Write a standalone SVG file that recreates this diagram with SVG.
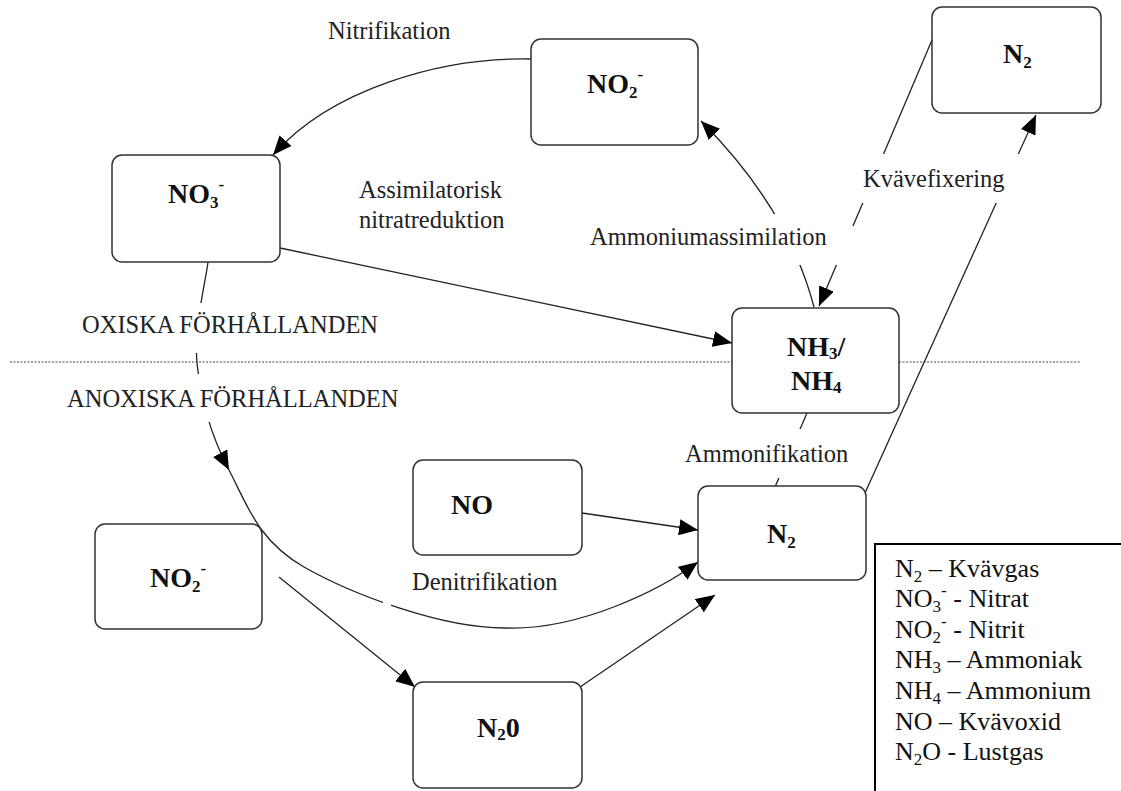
<svg xmlns="http://www.w3.org/2000/svg" width="1121" height="791" viewBox="0 0 1121 791">
<style>
.box{fill:#fff;stroke:#333;stroke-width:1.5}
.nl{font-family:"Liberation Serif","Times New Roman",serif;font-weight:bold;font-size:28px;fill:#111}
.lb{font-family:"Liberation Serif","Times New Roman",serif;font-size:24.5px;fill:#222}
.lg{font-family:"Liberation Serif","Times New Roman",serif;font-size:26px;fill:#111}
.sm{font-size:17px}
.ln{fill:none;stroke:#222;stroke-width:1.3}
.arr{marker-end:url(#ah)}
</style>
<defs>
<marker id="ah" markerUnits="userSpaceOnUse" markerWidth="20" markerHeight="16" refX="19" refY="8" orient="auto">
<path d="M0,0 L19,8 L0,16 Z" fill="#000"/>
</marker>
<mask id="gaps" maskUnits="userSpaceOnUse" x="0" y="0" width="1121" height="791">
<rect x="0" y="0" width="1121" height="791" fill="#fff"/>
<rect x="180" y="303" width="40" height="50" fill="#000"/>
<rect x="180" y="374" width="44" height="48" fill="#000"/>
<rect x="383" y="595" width="8" height="25" fill="#000"/>
<rect x="845" y="154" width="185" height="49" fill="#000"/>
<rect x="765" y="214" width="50" height="51" fill="#000"/>
<rect x="828" y="226" width="32" height="39" fill="#000"/>
<rect x="770" y="429" width="45" height="49" fill="#000"/>
</mask>
</defs>
<rect x="0" y="0" width="1121" height="791" fill="#fff"/>

<line x1="10" y1="362" x2="1081" y2="362" stroke="#444" stroke-width="1" stroke-dasharray="2 1.5"/>

<g id="connectors" mask="url(#gaps)">
<path class="ln arr" d="M531,59 C440,57 330,90 273,155"/>
<path class="ln arr" d="M280,248 L732,343"/>
<path class="ln arr" d="M814,307 Q788,208 701,121"/>
<path class="ln arr" d="M932,40 L819,306"/>
<path class="ln arr" d="M865,493 L1036,115"/>
<path class="ln" d="M807,413 L775,487"/>
<path class="ln arr" d="M208,262 C206.2,278.8 193.5,328.3 197,363 C200.5,397.7 211.2,436 229,470"/>
<path class="ln arr" d="M229,470 C246.8,504 257.7,540.7 304,567 C350.3,593.3 441.3,628.8 507,628 C580,630 660,590 698,562"/>
<path class="ln arr" d="M582,513 L698,530"/>
<path class="ln arr" d="M279,577 L415,687"/>
<path class="ln arr" d="M580,687 L715,595"/>
</g>

<g id="labels">
<text class="lb" x="328" y="39">Nitrifikation</text>
<text class="lb" x="359" y="198">Assimilatorisk</text>
<text class="lb" x="359" y="228">nitratreduktion</text>
<text class="lb" x="863" y="187">Kvävefixering</text>
<text class="lb" x="590" y="245">Ammoniumassimilation</text>
<text class="lb" x="82" y="333">OXISKA FÖRHÅLLANDEN</text>
<text class="lb" x="67" y="407">ANOXISKA FÖRHÅLLANDEN</text>
<text class="lb" x="685" y="462">Ammonifikation</text>
<text class="lb" x="412" y="590">Denitrifikation</text>
</g>

<g id="node-no2-top">
<rect class="box" x="531" y="39" width="167" height="106" rx="10"/>
<text class="nl" x="587" y="93">NO<tspan class="sm" dy="5">2</tspan><tspan class="sm" dy="-18">-</tspan></text>
</g>
<g id="node-n2-top">
<rect class="box" x="932" y="7" width="169" height="106" rx="10"/>
<text class="nl" x="1003" y="63">N<tspan class="sm" dy="5">2</tspan></text>
</g>
<g id="node-no3">
<rect class="box" x="112" y="155" width="168" height="107" rx="10"/>
<text class="nl" x="168" y="203">NO<tspan class="sm" dy="5">3</tspan><tspan class="sm" dy="-18">-</tspan></text>
</g>
<g id="node-nh3-nh4">
<rect class="box" x="732" y="308" width="167" height="105" rx="10"/>
<text class="nl" x="787" y="356">NH<tspan class="sm" dy="3">3</tspan><tspan dy="-3">/</tspan></text>
<text class="nl" x="791" y="390">NH<tspan class="sm" dy="3">4</tspan></text>
</g>
<g id="node-no">
<rect class="box" x="413" y="460" width="169" height="95" rx="10"/>
<text class="nl" x="451" y="514">NO</text>
</g>
<g id="node-n2-mid">
<rect class="box" x="698" y="486" width="168" height="94" rx="10"/>
<text class="nl" x="767" y="543">N<tspan class="sm" dy="5">2</tspan></text>
</g>
<g id="node-no2-bottom">
<rect class="box" x="95" y="524" width="167" height="105" rx="10"/>
<text class="nl" x="150" y="587">NO<tspan class="sm" dy="5">2</tspan><tspan class="sm" dy="-18">-</tspan></text>
</g>
<g id="node-n2o">
<rect class="box" x="413" y="682" width="169" height="106" rx="10"/>
<text class="nl" x="477" y="737">N<tspan class="sm" dy="3">2</tspan><tspan dy="-3">0</tspan></text>
</g>

<g id="legend">
<rect x="875" y="544" width="260" height="260" fill="#fff" stroke="#000" stroke-width="2"/>
<text class="lg" x="895" y="577">N<tspan class="sm" dy="5">2</tspan><tspan dy="-5"> – Kvävgas</tspan></text>
<text class="lg" x="895" y="607">NO<tspan class="sm" dy="5">3</tspan><tspan class="sm" dy="-16">-</tspan><tspan dy="11"> - Nitrat</tspan></text>
<text class="lg" x="895" y="638">NO<tspan class="sm" dy="5">2</tspan><tspan class="sm" dy="-16">-</tspan><tspan dy="11"> - Nitrit</tspan></text>
<text class="lg" x="895" y="668">NH<tspan class="sm" dy="5">3</tspan><tspan dy="-5"> – Ammoniak</tspan></text>
<text class="lg" x="895" y="699">NH<tspan class="sm" dy="5">4</tspan><tspan dy="-5"> – Ammonium</tspan></text>
<text class="lg" x="895" y="730">NO – Kvävoxid</text>
<text class="lg" x="895" y="760">N<tspan class="sm" dy="5">2</tspan><tspan dy="-5">O - Lustgas</tspan></text>
</g>
</svg>
